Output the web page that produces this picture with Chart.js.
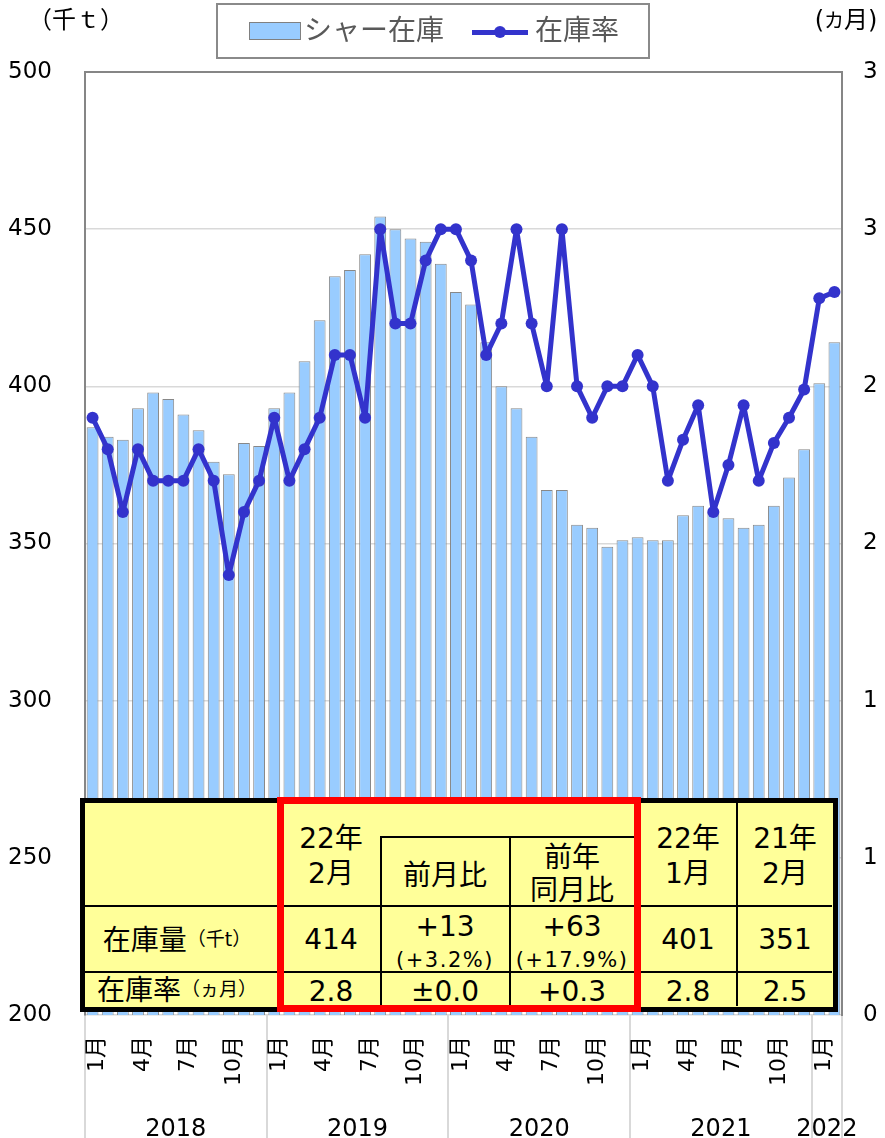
<!DOCTYPE html>
<html lang="ja">
<head>
<meta charset="utf-8">
<title>シャー在庫と在庫率</title>
<script src="https://cdn.jsdelivr.net/npm/chart.js@4.4.1/dist/chart.umd.min.js"></script>
<style>
  body { margin: 0; background: #fff; overflow: hidden; font-family: 'DejaVu Sans', 'Noto Sans CJK JP', sans-serif; }
  #wrap { position: relative; width: 885px; height: 1138px; }
  canvas { position: absolute; left: 0; top: 0; }
  .abs { position: absolute; box-sizing: border-box; }
  .c { position: absolute; transform: translate(-50%, -50%); line-height: 1; white-space: nowrap; color: #000; font-size: 28px; }
  .hl { position: absolute; height: 1.5px; background: #000; }
  .vl { position: absolute; width: 1.5px; background: #000; }
  .chico { font-size: 19px; vertical-align: 0.2em; }
  .pct { font-size: 21px; letter-spacing: 1.5px; }
</style>
</head>
<body>
<div id="wrap">
  <canvas id="grafStock" width="885" height="1138"></canvas>

  <!-- titulos de ejes -->
  <div class="c" style="left:76px;top:20px;font-size:24px;">（千ｔ）</div>
  <div class="c" style="left:846px;top:20px;font-size:24px;">(<span style="font-size:20px;">カ</span>月)</div>

  <!-- leyenda -->
  <div class="abs" style="left:216px;top:3px;width:434px;height:56px;border:2px solid #8a8a8a;background:#fff;"></div>
  <div class="abs" style="left:249px;top:22px;width:52px;height:18px;background:#99ccff;border:1px solid #808080;"></div>
  <div class="c" style="left:374px;top:31px;color:#595959;">シャー在庫</div>
  <div class="abs" style="left:472px;top:29.5px;width:56px;height:5px;background:#3333cc;"></div>
  <div class="abs" style="left:494px;top:26px;width:12px;height:12px;border-radius:50%;background:#3333cc;"></div>
  <div class="c" style="left:577px;top:31px;color:#595959;">在庫率</div>

  <!-- tabla -->
  <div class="abs" style="left:80px;top:798px;width:758px;height:214px;background:#ffff99;border:5px solid #000;"></div>
  <div class="hl" style="left:85px;top:905px;width:747px;"></div>
  <div class="hl" style="left:85px;top:971px;width:747px;"></div>
  <div class="hl" style="left:381px;top:836px;width:256px;"></div>
  <div class="vl" style="left:380px;top:836px;height:170px;"></div>
  <div class="vl" style="left:509px;top:836px;height:170px;"></div>
  <div class="vl" style="left:736px;top:803px;height:203px;"></div>

  <div class="c" style="left:331px;top:839px;">22年</div>
  <div class="c" style="left:331px;top:874px;">2月</div>
  <div class="c" style="left:445px;top:876px;">前月比</div>
  <div class="c" style="left:572px;top:858px;">前年</div>
  <div class="c" style="left:572px;top:891px;">同月比</div>
  <div class="c" style="left:688px;top:839px;">22年</div>
  <div class="c" style="left:688px;top:874px;">1月</div>
  <div class="c" style="left:785px;top:839px;">21年</div>
  <div class="c" style="left:785px;top:874px;">2月</div>

  <div class="c" style="left:177px;top:941px;">在庫量<span class="chico">（千t）</span></div>
  <div class="c" style="left:331px;top:940px;">414</div>
  <div class="c" style="left:445px;top:927px;">+13</div>
  <div class="c pct" style="left:445px;top:960px;">(+3.2%)</div>
  <div class="c" style="left:572px;top:927px;">+63</div>
  <div class="c pct" style="left:572px;top:960px;">(+17.9%)</div>
  <div class="c" style="left:688px;top:940px;">401</div>
  <div class="c" style="left:785px;top:940px;">351</div>

  <div class="c" style="left:177px;top:991px;">在庫率<span class="chico">（ヵ月）</span></div>
  <div class="c" style="left:331px;top:992px;">2.8</div>
  <div class="c" style="left:445px;top:992px;">±0.0</div>
  <div class="c" style="left:572px;top:992px;">+0.3</div>
  <div class="c" style="left:688px;top:992px;">2.8</div>
  <div class="c" style="left:785px;top:992px;">2.5</div>

  <div class="abs" style="left:277px;top:797px;width:364px;height:215px;border:7px solid #ff0000;"></div>
</div>

<script>
// === Datos ===
const categorias = [
  '2018/1','2018/2','2018/3','2018/4','2018/5','2018/6','2018/7','2018/8','2018/9','2018/10','2018/11','2018/12',
  '2019/1','2019/2','2019/3','2019/4','2019/5','2019/6','2019/7','2019/8','2019/9','2019/10','2019/11','2019/12',
  '2020/1','2020/2','2020/3','2020/4','2020/5','2020/6','2020/7','2020/8','2020/9','2020/10','2020/11','2020/12',
  '2021/1','2021/2','2021/3','2021/4','2021/5','2021/6','2021/7','2021/8','2021/9','2021/10','2021/11','2021/12',
  '2022/1','2022/2'
];

const etiquetasMes = [
  '1月','','','4月','','','7月','','','10月','','',
  '1月','','','4月','','','7月','','','10月','','',
  '1月','','','4月','','','7月','','','10月','','',
  '1月','','','4月','','','7月','','','10月','','',
  '1月',''
];

const anios = ['2018', '2019', '2020', '2021', '2022'];
const centroAnios = [6, 18, 30, 42, 49];

// シャー在庫 (千t)
const stockShear = [
  387, 384, 383, 393, 398, 396, 391, 386, 376, 372, 382, 381,
  393, 398, 408, 421, 435, 437, 442, 454, 450, 447, 446, 439,
  430, 426, 414, 400, 393, 384, 367, 367, 356, 355, 349, 351,
  352, 351, 351, 359, 362, 360, 358, 355, 356, 362, 371, 380,
  401, 414
];

// 在庫率 (ヵ月)
const tasaStock = [
  1.9, 1.8, 1.6, 1.8, 1.7, 1.7, 1.7, 1.8, 1.7, 1.4, 1.6, 1.7,
  1.9, 1.7, 1.8, 1.9, 2.1, 2.1, 1.9, 2.5, 2.2, 2.2, 2.4, 2.5,
  2.5, 2.4, 2.1, 2.2, 2.5, 2.2, 2.0, 2.5, 2.0, 1.9, 2.0, 2.0,
  2.1, 2.0, 1.7, 1.83, 1.94, 1.6, 1.75, 1.94, 1.7, 1.82, 1.9, 1.99,
  2.28, 2.3
];

const etiquetasDerecha = ['0', '1', '1', '2', '2', '3', '3'];

// === Grafico ===
Chart.defaults.font.family = "'DejaVu Sans', 'Noto Sans CJK JP', sans-serif";
Chart.defaults.color = '#000';

const ctx = document.getElementById('grafStock').getContext('2d');
new Chart(ctx, {
  data: {
    labels: categorias,
    datasets: [
      {
        type: 'line',
        label: '在庫率',
        data: tasaStock,
        yAxisID: 'y1',
        xAxisID: 'x',
        order: 0,
        borderColor: '#3333cc',
        backgroundColor: '#3333cc',
        borderWidth: 5,
        borderJoinStyle: 'round',
        borderCapStyle: 'round',
        tension: 0,
        pointRadius: 6,
        pointBorderWidth: 0,
        pointBackgroundColor: '#3333cc'
      },
      {
        type: 'bar',
        label: 'シャー在庫',
        data: stockShear,
        yAxisID: 'y',
        xAxisID: 'x',
        order: 1,
        backgroundColor: '#99ccff',
        borderColor: '#888888',
        borderWidth: 1,
        barPercentage: 0.78,
        categoryPercentage: 1
      }
    ]
  },
  options: {
    responsive: false,
    animation: false,
    devicePixelRatio: 1,
    layout: { padding: { top: 72, left: 0, right: 0, bottom: 0 } },
    plugins: {
      legend: { display: false },
      tooltip: { enabled: false }
    },
    scales: {
      x: {
        type: 'category',
        position: 'bottom',
        weight: 0,
        offset: true,
        border: { display: false },
        grid: {
          offset: true,
          drawOnChartArea: false,
          drawTicks: true,
          tickLength: 123,
          lineWidth: 2,
          color: c => (c.type === 'scale' || c.index % 12 === 0) ? '#d9d9d9' : 'rgba(0,0,0,0)'
        },
        ticks: {
          autoSkip: false,
          minRotation: 90,
          maxRotation: 90,
          padding: -102,
          labelOffset: 5,
          font: { size: 22 },
          callback: (v, i) => etiquetasMes[i]
        },
        afterFit: s => { s.height = 90; }
      },
      x2: {
        type: 'linear',
        position: 'bottom',
        weight: 1,
        min: 0,
        max: 50,
        border: { display: false },
        grid: { display: false },
        afterBuildTicks: s => { s.ticks = centroAnios.map(v => ({ value: v })); },
        ticks: {
          autoSkip: false,
          maxRotation: 0,
          padding: 2,
          font: { size: 24 },
          callback: (v, i) => anios[i]
        },
        afterFit: s => { s.height = 33; }
      },
      y: {
        position: 'left',
        min: 200,
        max: 500,
        border: { display: true, color: '#868686', width: 2 },
        grid: {
          drawTicks: false,
          color: c => (c.tick && c.tick.value === 500) ? '#868686' : '#d9d9d9',
          lineWidth: c => (c.tick && c.tick.value === 500) ? 2 : 1.5
        },
        ticks: { stepSize: 50, padding: 33, font: { size: 23 } },
        afterFit: s => { s.width = 85; }
      },
      y1: {
        position: 'right',
        min: 0,
        max: 3,
        border: { display: true, color: '#868686', width: 2 },
        grid: { drawOnChartArea: false, drawTicks: false },
        ticks: {
          stepSize: 0.5,
          padding: 21,
          font: { size: 23 },
          callback: (v, i) => etiquetasDerecha[i]
        },
        afterFit: s => { s.width = 43; }
      }
    }
  }
});
</script>
</body>
</html>
